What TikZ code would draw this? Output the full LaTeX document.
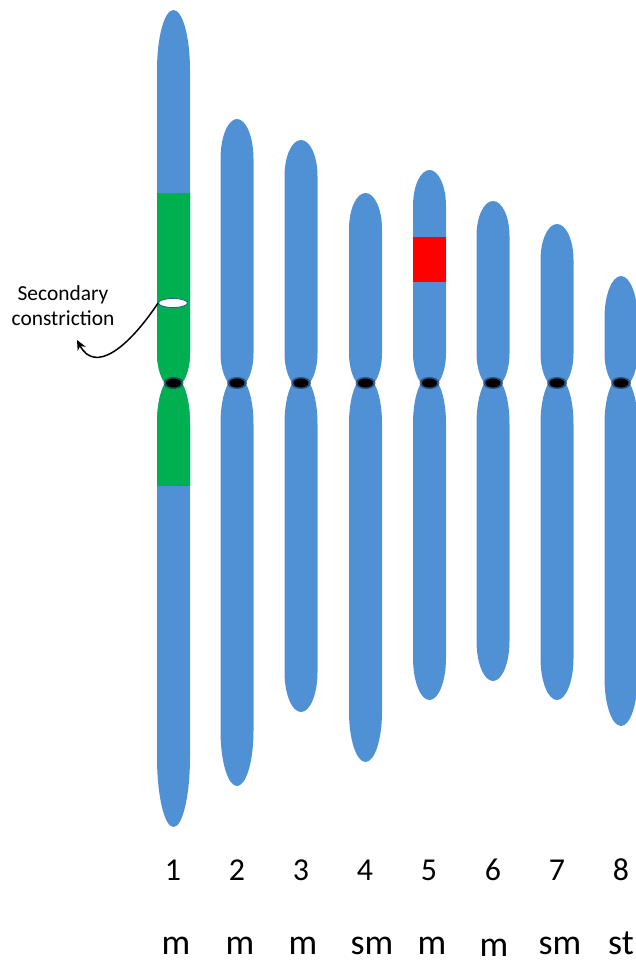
\documentclass[tikz,border=0pt]{standalone}
\usepackage{fontspec}
\setmainfont{Carlito}
\usetikzlibrary{arrows.meta,shapes.geometric}

\definecolor{chromblue}{HTML}{5090D5}
\definecolor{bandgreen}{HTML}{00B050}
\definecolor{bandred}{HTML}{FF0000}
\definecolor{halo}{HTML}{1F3864}
\definecolor{rimblue}{HTML}{2F5597}

% short arm: centre x, top y, height of the rounded top
\newcommand\parmpath[3]{%
  ({#1-8},383) .. controls ({#1-11},381) and ({#1-16.5},370) .. ({#1-16.5},353)
  -- ({#1-16.5},{#2+#3})
  .. controls ({#1-16.5},{#2+0.4477*#3}) and ({#1-9.11},{#2}) .. ({#1},{#2})
  .. controls ({#1+9.11},{#2}) and ({#1+16.5},{#2+0.4477*#3}) .. ({#1+16.5},{#2+#3})
  -- ({#1+16.5},353) .. controls ({#1+16.5},370) and ({#1+11},381) .. ({#1+8},383) -- cycle}
% long arm: centre x, bottom y, height of the rounded bottom
\newcommand\qarmpath[3]{%
  ({#1-8},383) .. controls ({#1-11},386) and ({#1-16.5},400) .. ({#1-16.5},424)
  -- ({#1-16.5},{#2-#3})
  .. controls ({#1-16.5},{#2-0.4477*#3}) and ({#1-9.11},{#2}) .. ({#1},{#2})
  .. controls ({#1+9.11},{#2}) and ({#1+16.5},{#2-0.4477*#3}) .. ({#1+16.5},{#2-#3})
  -- ({#1+16.5},424) .. controls ({#1+16.5},400) and ({#1+11},386) .. ({#1+8},383) -- cycle}

\tikzset{
  arm/.style={fill=chromblue},
  centro/.style={ellipse, fill=black, inner sep=0pt, minimum width=15bp, minimum height=9bp},
  numlabel/.style={font=\fontsize{32}{32}\selectfont, inner sep=0pt},
  typelabel/.style={font=\fontsize{36}{36}\selectfont, inner sep=0pt, anchor=base},
  note/.style={font=\fontsize{21.5}{25}\selectfont, align=center, inner sep=0pt},
  pointer/.style={-{Stealth[length=10bp,width=9bp]}, line width=1.5bp},
}

\begin{document}
\begin{tikzpicture}[x=1bp,y=-1bp]
\useasboundingbox (0,0) rectangle (636,965);

% chromosome arms
\foreach \cx/\tp/\tc/\bt/\bc in {173.5/10/60/827/70, 237/119/40/786/55,
    301/140/36/712/40, 365.5/193/36/762/50, 429.5/170/36/700/42,
    493/201/35/681/40, 557/224/36/700/42, 621/276/42/726/48}{
  \fill[arm] \parmpath{\cx}{\tp}{\tc};
  \fill[arm] \qarmpath{\cx}{\bt}{\bc};
}

% green region of chromosome 1
\begin{scope}
  \clip \parmpath{173.5}{10}{60};
  \fill[bandgreen] (150,193) rectangle (200,400);
\end{scope}
\begin{scope}
  \clip \qarmpath{173.5}{827}{70};
  \fill[bandgreen] (150,370) rectangle (200,486);
\end{scope}

% red band of chromosome 5
\fill[bandred] (413,237) rectangle (446,282);

% centromeres
\foreach \cx [count=\i] in {173.5,237,301,365.5,429.5,493,557,621}{
  \fill[halo, opacity=0.7] (\cx,383) ellipse [x radius=10, y radius=6];
  \node[centro] (cen\i) at (\cx,383) {};
}

% secondary constriction
\node[draw=rimblue, fill=white, line width=0.8bp, ellipse, inner sep=0pt,
      minimum width=29bp, minimum height=9bp] (sc) at (173,303) {};
\node[note] (sclabel) at (63,306) {Secondary\\constriction};
\coordinate (sctip) at (77,340);
\draw[pointer] (sc.west) .. controls (128,348) and (95,374) .. (sctip);

% chromosome numbers
\foreach \cx/\t [count=\i] in {173/1,237/2,301/3,365/4,429/5,493/6,557/7,621/8}{
  \node[numlabel] (num\i) at (\cx,870) {\t};
}

% centromere position types
\foreach \cx/\by/\t [count=\i] in {176/954/m,240/954/m,303/954/m,372/954/sm,
    432/954/m,494/956/m,560/954/sm,621/954/st}{
  \node[typelabel] (type\i) at (\cx,\by) {\t};
}
\end{tikzpicture}
\end{document}
